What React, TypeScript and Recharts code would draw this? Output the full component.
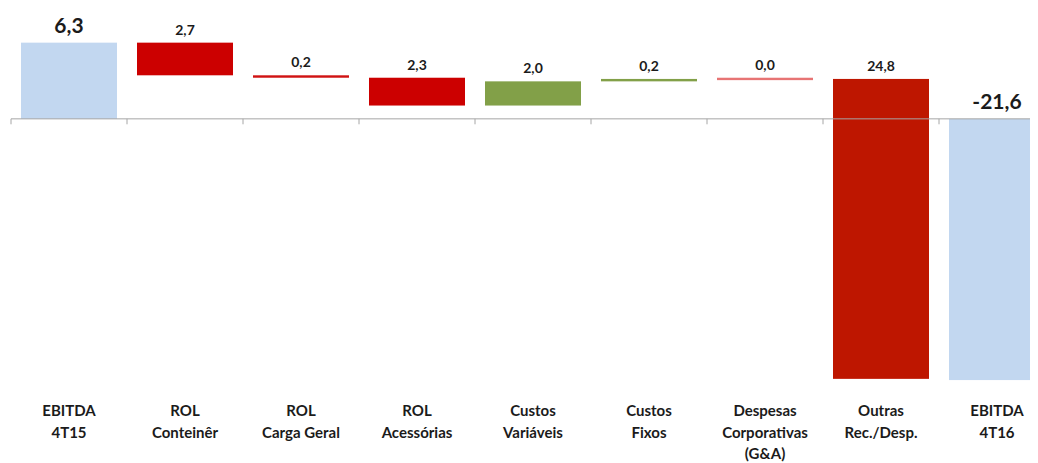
import { BarChart, Bar, XAxis, YAxis, ReferenceLine } from 'recharts'

const categories = [
  'EBITDA\n4T15', 'ROL\nConteinêr', 'ROL\nCarga Geral', 'ROL\nAcessórias', 'Custos\nVariáveis',
  'Custos\nFixos', 'Despesas\nCorporativas\n(G&A)', 'Outras\nRec./Desp.', 'EBITDA\n4T16',
]
const changes = [6.3, -2.7, -0.2, -2.3, 2.0, 0.2, 0.0, -24.8, -21.6]
const valueLabels = ['6,3', '2,7', '0,2', '2,3', '2,0', '0,2', '0,0', '24,8', '-21,6']
const isTotal = [true, false, false, false, false, false, false, false, true]
const barColors = ['#C2D7F0', '#CC0000', '#D01212', '#CC0000', '#82A048', '#82A048', '#E77474', '#BE1600', '#C2D7F0']

const font = 'Lato, "Open Sans", sans-serif'
const textColor = '#1b1b1b'
const axisColor = '#A6A6A6'

// waterfall: totals start at zero, changes float from the running sum
let running = 0
const data = categories.map((name, i) => {
  let range: [number, number]
  if (isTotal[i]) {
    range = [Math.min(0, changes[i]), Math.max(0, changes[i])]
    running = changes[i]
  } else {
    const next = running + changes[i]
    range = [Math.min(running, next), Math.max(running, next)]
    running = next
  }
  return { name, range, label: valueLabels[i], total: isTotal[i], color: barColors[i] }
})

function StepBar(props: any) {
  const { x, y, width, height, payload } = props
  const h = Math.abs(height || 0)
  let top = height < 0 ? y + height : y
  let drawH = h
  if (h < 2.4) {
    top = top + h / 2 - 1.2
    drawH = 2.4
  }
  const big = payload.total
  return (
    <g>
      <rect x={x} y={top} width={width} height={drawH} fill={payload.color} />
      <text
        x={x + width / 2} y={top - (big ? 10 : 8)} textAnchor="middle"
        fontFamily={font} fontWeight={700} fontSize={big ? 21 : 14} fill={textColor}
      >
        {payload.label}
      </text>
    </g>
  )
}

function CategoryTick(props: any) {
  const { x, y, payload } = props
  const lines = String(payload.value).split('\n')
  return (
    <text x={x} y={y + 19} textAnchor="middle" fontFamily={font} fontWeight={700} fontSize={15} fill={textColor}>
      {lines.map((line, i) => (
        <tspan key={i} x={x} dy={i === 0 ? 0 : 21.5}>{line}</tspan>
      ))}
    </text>
  )
}

export default function App() {
  const last = categories[categories.length - 1]
  return (
    <div style={{ width: 1030, height: 455, overflow: 'hidden' }}>
      <BarChart width={1047} height={455} data={data} margin={{ top: 2, right: 0, bottom: 0, left: 3 }}>
        <XAxis
          dataKey="name" tick={<CategoryTick />} interval={0}
          axisLine={false} tickLine={false} tickSize={0} tickMargin={0} height={66}
        />
        <YAxis domain={[-23, 9]} hide />
        <Bar dataKey="range" barSize={96} shape={<StepBar />} isAnimationActive={false} />
        <ReferenceLine y={0} stroke={axisColor} strokeWidth={1} />
        {categories.map((c) => (
          <ReferenceLine
            key={c} position="start" stroke={axisColor} strokeWidth={1}
            segment={[{ x: c, y: 0 }, { x: c, y: -0.45 }]}
          />
        ))}
        <ReferenceLine
          position="end" stroke={axisColor} strokeWidth={1}
          segment={[{ x: last, y: 0 }, { x: last, y: -0.45 }]}
        />
      </BarChart>
    </div>
  )
}
